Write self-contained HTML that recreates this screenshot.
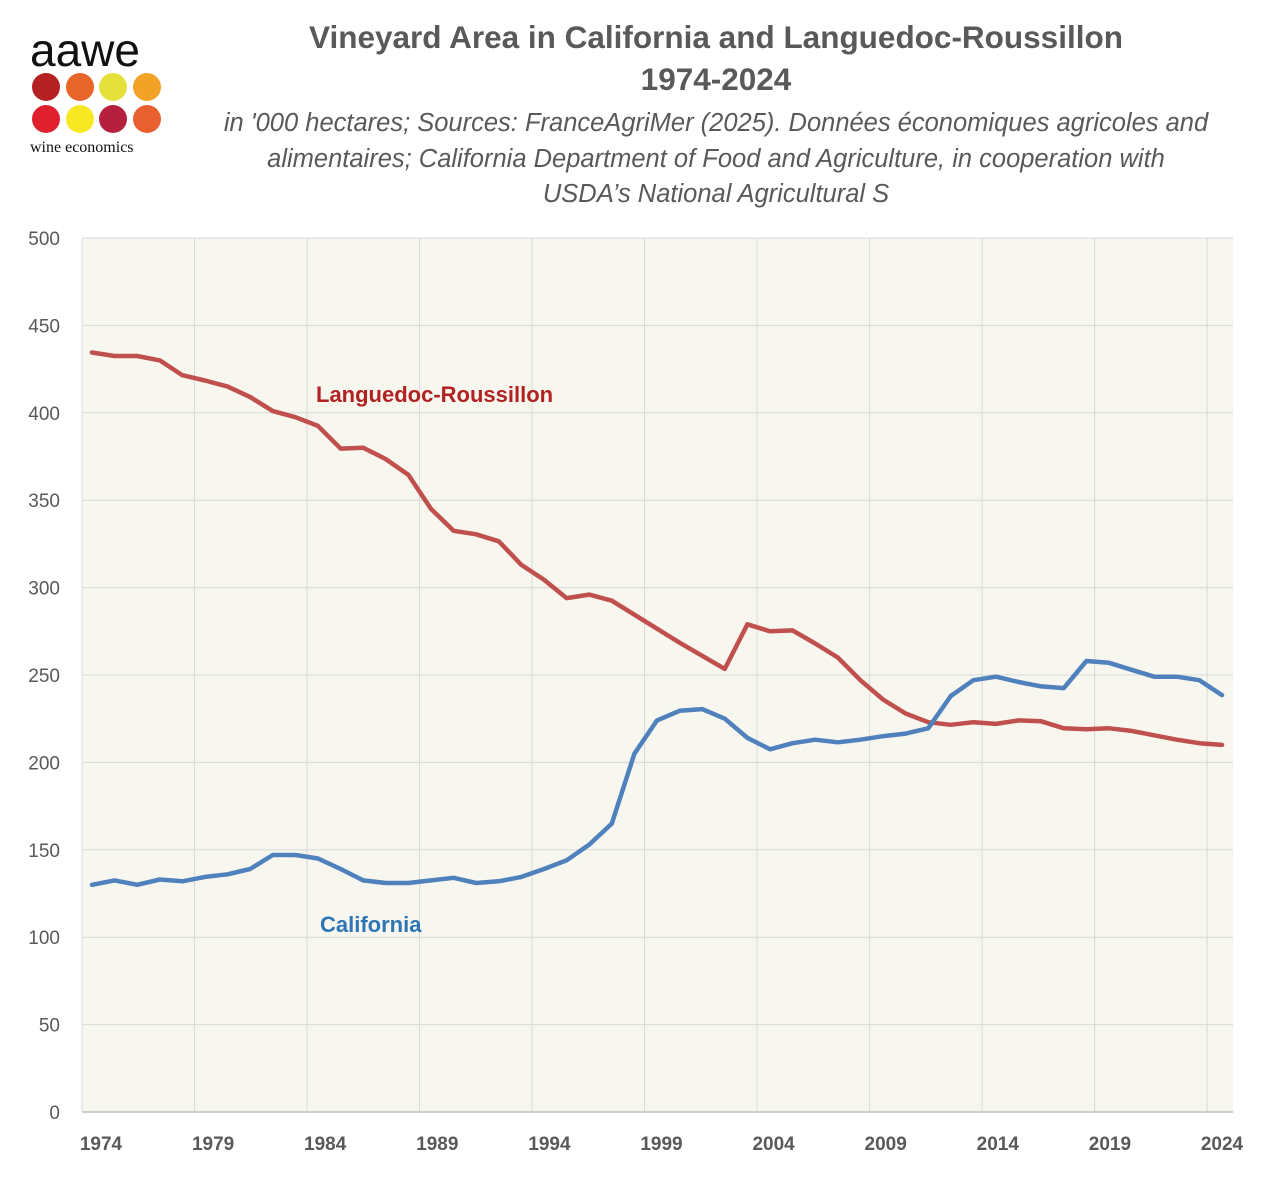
<!DOCTYPE html>
<html><head><meta charset="utf-8"><style>
body{margin:0;background:#fff;font-family:"Liberation Sans",sans-serif}
</style></head><body>
<svg width="1280" height="1185" viewBox="0 0 1280 1185" xmlns="http://www.w3.org/2000/svg">
<g>
<text x="30" y="66" font-size="46" font-family="Liberation Sans,sans-serif" fill="#111">aawe</text>
<circle cx="46" cy="87" r="14" fill="#b52025"/><circle cx="80" cy="87" r="14" fill="#e8652a"/><circle cx="113" cy="87" r="14" fill="#e6e03a"/><circle cx="147" cy="87" r="14" fill="#f2a227"/>
<circle cx="46" cy="119" r="14" fill="#e0202f"/><circle cx="80" cy="119" r="14" fill="#f6e823"/><circle cx="113" cy="119" r="14" fill="#b5203f"/><circle cx="147" cy="119" r="14" fill="#e8602f"/>
<text x="30" y="152" font-size="16" font-family="Liberation Serif,serif" fill="#111">wine economics</text>
</g>
<text x="716" y="48" text-anchor="middle" font-size="31.5" font-weight="bold" fill="#595959">Vineyard Area in California and Languedoc-Roussillon</text>
<text x="716" y="90" text-anchor="middle" font-size="31.5" font-weight="bold" fill="#595959">1974-2024</text>
<g font-size="25.5" font-style="italic" fill="#595959" text-anchor="middle">
<text x="716" y="131">in '000 hectares; Sources: FranceAgriMer (2025). Données économiques agricoles and</text>
<text x="716" y="167">alimentaires; California Department of Food and Agriculture, in cooperation with</text>
<text x="716" y="202">USDA’s National Agricultural S</text>
</g>
<g id="grid"></g>
<g id="axes"></g>
<g id="series"></g>
<text x="316" y="402" font-size="22" font-weight="bold" fill="#b22222">Languedoc-Roussillon</text>
<text x="320" y="932" font-size="22" font-weight="bold" fill="#2e75b6">California</text>
</svg>
<script>
const years=[];for(let y=1974;y<=2024;y++)years.push(y);
const california=[130,132.5,130,133,132,134.5,136,139,147,147,145,139,132.5,131,131,132.5,134,131,132,134.5,139,144,153,165,205,224,229.5,230.5,225,214,207.5,211,213,211.5,213,215,216.5,219.5,238,247,249,246,243.5,242.5,258,257,253,249,249,247,238.5];
const languedoc=[434.5,432.5,432.5,430,421.5,418.5,415,409,401,397.5,392.5,379.5,380,373.5,364.5,345,332.5,330.5,326.5,313,304.5,294,296,292.5,284.5,276.5,268.5,261,253.5,279,275,275.5,268,260,247,236,228,223,221.5,223,222,224,223.5,219.5,219,219.5,218,215.5,213,211,210];
const yTicks=[0,50,100,150,200,250,300,350,400,450,500];
const xTickLabels=[1974,1979,1984,1989,1994,1999,2004,2009,2014,2019,2024];
const NS='http://www.w3.org/2000/svg';
const L=82,R=1233,T=238,B=1112;
const yS=v=>B-(v/500)*(B-T);
const xS=yr=>92+(yr-1974)*(1222-92)/50;
function mk(tag,attrs,parent){const e=document.createElementNS(NS,tag);for(const k in attrs)e.setAttribute(k,attrs[k]);parent.appendChild(e);return e;}
const grid=document.getElementById('grid'),axes=document.getElementById('axes'),ser=document.getElementById('series');
mk('rect',{x:L,y:T,width:R-L,height:B-T,fill:'#f7f7ef'},grid);
yTicks.forEach(v=>{const l=mk('line',{x1:L,x2:R,y1:yS(v),y2:yS(v),stroke:'#d9d9d9','stroke-width':1},grid);


const t=mk('text',{x:60,y:yS(v)+7,'text-anchor':'end','font-size':19,fill:'#595959'},axes);t.textContent=v;

});
for(let i=1;i<=10;i++){const x=L+i*(R-L)/10.23;const l=mk('line',{x1:x,x2:x,y1:T,y2:B,stroke:'#d9d9d9','stroke-width':1},grid);

}
mk('line',{x1:L,x2:L,y1:T,y2:B,stroke:'#d9d9d9'},grid);
mk('line',{x1:L,x2:R,y1:B,y2:B,stroke:'#bfbfbf','stroke-width':1.5},axes);
xTickLabels.forEach((yr,i)=>{const t=mk('text',{x:101+i*112.1,y:1150,'text-anchor':'middle','font-size':19,'font-weight':'bold',fill:'#595959'},axes);t.textContent=yr;

});
function line(data,color,name){const d=data.map((v,i)=>(i?'L':'M')+xS(years[i]).toFixed(1)+','+yS(v).toFixed(1)).join(' ');
const p=mk('path',{d:d,fill:'none',stroke:color,'stroke-width':4.5,'stroke-linejoin':'round','stroke-linecap':'round'},ser);

}
line(languedoc,'#c0504d','line-languedoc-roussillon');
line(california,'#4f81bd','line-california');
</script>
</body></html>
